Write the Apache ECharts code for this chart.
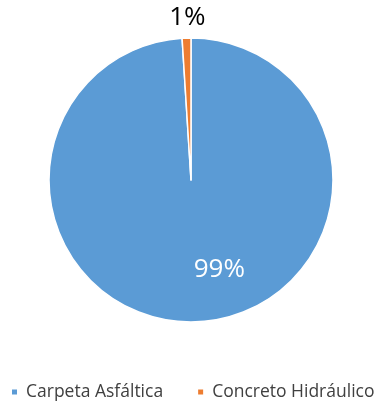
<!DOCTYPE html>
<html>
<head>
<meta charset="utf-8">
<script src="https://cdn.jsdelivr.net/npm/echarts@6/dist/echarts.min.js"></script>
<style>
  html, body { margin: 0; padding: 0; background: #fff; }
  #chart { width: 383px; height: 402px; }
</style>
</head>
<body>
<div id="chart"></div>
<script>
// Pavement type share
const categories = ['Carpeta Asfáltica', 'Concreto Hidráulico'];
const values = [99, 1];
const colors = ['#5B9BD5', '#ED7D31'];

const FONT = '"Open Sans", "Noto Sans", sans-serif';

const chart = echarts.init(document.getElementById('chart'), null, { renderer: 'canvas' });

const data = categories.map((name, i) => ({
  name: name,
  value: values[i],
  itemStyle: { color: colors[i] },
  label: i === 0
    ? { position: 'inside', color: '#ffffff' }
    : { position: 'outside', color: '#000000' }
}));

chart.setOption({
  animation: false,
  backgroundColor: '#ffffff',
  legend: {
    data: categories,
    orient: 'horizontal',
    left: 10,
    top: 383,
    width: 420,
    padding: 0,
    icon: 'rect',
    itemWidth: 7,
    itemHeight: 7,
    itemGap: 33,
    textStyle: {
      fontFamily: FONT,
      fontSize: 17.5,
      color: '#404040',
      padding: [0, 0, 0, 3]
    }
  },
  series: [{
    type: 'pie',
    center: [191, 180],
    radius: [0, 142],
    startAngle: 90,
    clockwise: true,
    avoidLabelOverlap: false,
    itemStyle: { borderColor: '#ffffff', borderWidth: 1.5 },
    label: {
      show: true,
      formatter: p => Math.round(p.value) + '%',
      fontFamily: FONT,
      fontSize: 26
    },
    labelLine: { show: false, length: 0, length2: 0 },
    labelLayout: function (params) {
      if (params.dataIndex === 0) return { dx: 26, dy: 16 };
      return { dx: 24, dy: -20 };
    },
    data: data
  }]
});
</script>
</body>
</html>
